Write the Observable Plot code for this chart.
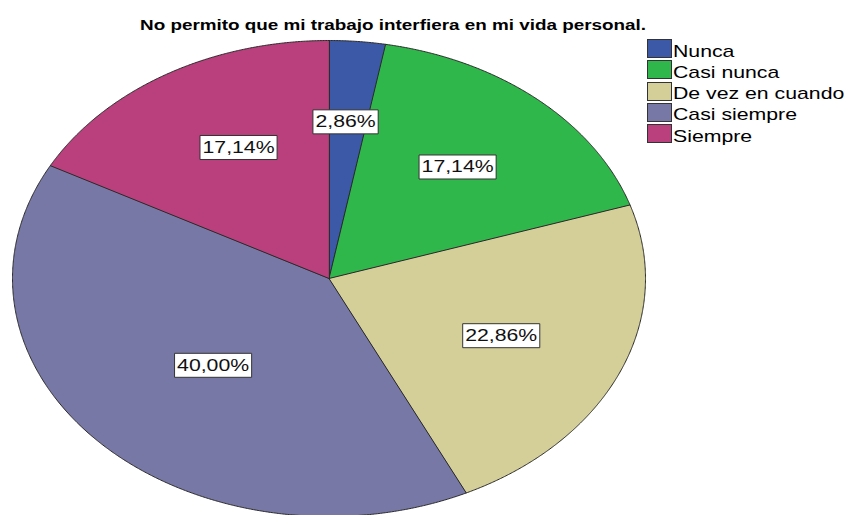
<!DOCTYPE html>
<html><head><meta charset="utf-8">
<script src="https://cdn.jsdelivr.net/npm/d3@7"></script>
<script src="https://cdn.jsdelivr.net/npm/@observablehq/plot@0.6"></script>
<style>
body{margin:0;background:#fff;font-family:"Liberation Sans",Arial,sans-serif;}
#wrap{position:relative;width:846px;height:515px;overflow:hidden;}
#title{position:absolute;left:0;top:0;width:846px;height:38px;}
#title span{position:absolute;left:393px;top:17px;font-weight:bold;font-size:14.5px;white-space:nowrap;color:#000;transform:translateX(-50%) scaleX(1.3);transform-origin:center;}
#chart{position:absolute;left:0;top:38px;}
#legend{position:absolute;left:647px;top:39px;}
.item{position:absolute;left:0;height:19px;width:200px;}
.sw{position:absolute;left:0;top:0;width:25px;height:19px;box-sizing:border-box;border:1px solid #333;}
.lt{position:absolute;left:26px;top:2.5px;font-size:17px;line-height:19px;white-space:nowrap;color:#000;transform:scaleX(1.25);transform-origin:left center;}
</style>
</head><body>
<div id="wrap">
  <div id="title"><span></span></div>
  <div id="chart"></div>
  <div id="legend"></div>
</div>
<script>
const title = "No permito que mi trabajo interfiera en mi vida personal.";
const categories = ["Nunca", "Casi nunca", "De vez en cuando", "Casi siempre", "Siempre"];
const percents = [2.86, 17.14, 22.86, 40.00, 17.14];
const labels = ["2,86%", "17,14%", "22,86%", "40,00%", "17,14%"];
const colors = ["#3c59a8", "#30b74b", "#d4cf99", "#7878a7", "#b9407c"];

// layout: label placement (fraction of radius, angle shift in degrees)
const labelRadius = [0.66, 0.62, 0.595, 0.517, 0.62];
const labelShift = [-0.6, -0.2, 0.7, -1.2, 3.4];

document.querySelector("#title span").textContent = title;

const pie = d3.pie().sort(null).value(d => d)(percents);
const slices = [];
const labelRows = [];
pie.forEach((p, i) => {
  const cat = categories[i];
  slices.push({cat, x: 0, y: 0});
  const n = Math.max(2, Math.ceil((p.endAngle - p.startAngle) / 0.005));
  for (let k = 0; k <= n; k++) {
    const a = p.startAngle + (p.endAngle - p.startAngle) * k / n;
    slices.push({cat, x: Math.sin(a), y: Math.cos(a)});
  }
  const m = (p.startAngle + p.endAngle) / 2 + labelShift[i] * Math.PI / 180;
  labelRows.push({cat, label: labels[i], x: labelRadius[i] * Math.sin(m), y: labelRadius[i] * Math.cos(m)});
});

const plot = Plot.plot({
  width: 846,
  height: 477,
  margin: 0,
  x: {domain: [-1, 1], range: [12, 645], axis: null},
  y: {domain: [-1, 1], range: [478, 2], axis: null},
  color: {domain: categories, range: colors},
  style: {background: "transparent", overflow: "hidden"},
  marks: [
    Plot.line(slices, {x: "x", y: "y", z: "cat", fill: "cat", stroke: "#2a2a2a", strokeWidth: 1, curve: "linear-closed"}),
    Plot.text(labelRows, {x: "x", y: "y", text: "label", fontSize: 17, fill: "#111", fontFamily: "Liberation Sans"})
  ]
});
document.getElementById("chart").appendChild(plot);

// stretch label text and add boxed background
const sx = 1.25;
plot.querySelectorAll('g[aria-label="text"] text').forEach(t => {
  const tr = t.getAttribute("transform") || "";
  const bb = t.getBBox();
  const r = document.createElementNS("http://www.w3.org/2000/svg", "rect");
  const px = 2, py = 3;
  r.setAttribute("x", bb.x - px);
  r.setAttribute("y", bb.y - py + 0.5);
  r.setAttribute("width", bb.width + 2 * px);
  r.setAttribute("height", bb.height + 2 * py - 1);
  r.setAttribute("fill", "#fff");
  r.setAttribute("stroke", "#333");
  r.setAttribute("stroke-width", 1);
  r.setAttribute("vector-effect", "non-scaling-stroke");
  r.setAttribute("transform", tr + ` scale(${sx},1)`);
  t.parentNode.insertBefore(r, t);
  t.setAttribute("transform", tr + ` scale(${sx},1)`);
});
const tg = plot.querySelector('g[aria-label="text"]');
tg.querySelectorAll("text").forEach(t => tg.appendChild(t));

// legend
const leg = document.getElementById("legend");
categories.forEach((c, i) => {
  const it = document.createElement("div");
  it.className = "item";
  it.style.top = (i * 21.3) + "px";
  const sw = document.createElement("div");
  sw.className = "sw";
  sw.style.background = colors[i];
  const lt = document.createElement("div");
  lt.className = "lt";
  lt.textContent = c;
  it.appendChild(sw); it.appendChild(lt);
  leg.appendChild(it);
});
</script>
</body></html>
